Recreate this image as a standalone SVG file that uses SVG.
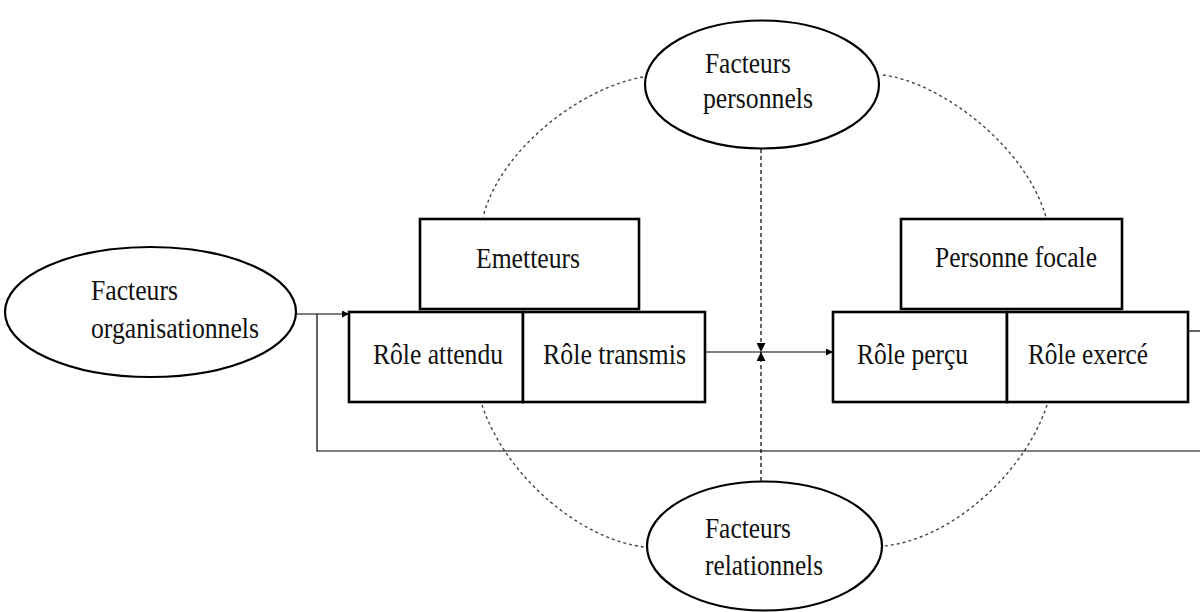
<svg xmlns="http://www.w3.org/2000/svg" width="1200" height="612" viewBox="0 0 1200 612">
<style>
.t{font-family:"Liberation Serif","Times New Roman",serif;font-size:29px;fill:#111}
.ell{fill:#fff;stroke:#000;stroke-width:2.2}
.box{fill:#fff;stroke:#000;stroke-width:2.6}
.ln{fill:none;stroke:#000;stroke-width:1.2}
.dot{fill:none;stroke:#444;stroke-width:1.4;stroke-dasharray:3 3}
.dash{fill:none;stroke:#000;stroke-width:1.2;stroke-dasharray:4 3}
</style>
<defs>
<marker id="ah" viewBox="0 0 10 10" refX="10" refY="5" markerWidth="7" markerHeight="7" markerUnits="userSpaceOnUse" orient="auto">
<path d="M0,0 L10,5 L0,10 z" fill="#000"/>
</marker>
<marker id="ah2" viewBox="0 0 10 10" refX="10" refY="5" markerWidth="11" markerHeight="9" markerUnits="userSpaceOnUse" orient="auto">
<path d="M0,0 L10,5 L0,10 z" fill="#000"/>
</marker>
</defs>
<rect width="1200" height="612" fill="#fff"/>
<g id="connectors">
<path class="dot" d="M643,77 C580,88 500,150 483,217"/>
<path class="dot" d="M883,75 C940,82 1025,145 1046,217"/>
<path class="dot" d="M482,405 C505,475 580,540 645,547"/>
<path class="dot" d="M1047,405 C1024,475 949,540 884,546"/>
<path class="ln" d="M296,314 L349,314" marker-end="url(#ah)"/>
<path class="ln" d="M317,314 L317,451 L1200,451"/>
<path class="ln" d="M1188,331 L1200,331"/>
<path class="ln" d="M705,352 L833,352" marker-end="url(#ah)"/>
<path class="dash" d="M761,149 L761,352" marker-end="url(#ah2)"/>
<path class="dash" d="M761,481 L761,352" marker-end="url(#ah2)"/>
</g>
<g id="facteurs-personnels">
<ellipse class="ell" cx="762" cy="84.5" rx="117" ry="64"/>
<text class="t" x="705" y="73" textLength="86" lengthAdjust="spacingAndGlyphs">Facteurs</text>
<text class="t" x="703" y="108" textLength="110" lengthAdjust="spacingAndGlyphs">personnels</text>
</g>
<g id="facteurs-relationnels">
<ellipse class="ell" cx="764.5" cy="546" rx="117.5" ry="64.5"/>
<text class="t" x="705" y="538" textLength="86" lengthAdjust="spacingAndGlyphs">Facteurs</text>
<text class="t" x="705" y="575" textLength="118" lengthAdjust="spacingAndGlyphs">relationnels</text>
</g>
<g id="facteurs-organisationnels">
<ellipse class="ell" cx="150.5" cy="312" rx="145.5" ry="65"/>
<text class="t" x="91" y="300" textLength="87" lengthAdjust="spacingAndGlyphs">Facteurs</text>
<text class="t" x="91" y="338" textLength="168" lengthAdjust="spacingAndGlyphs">organisationnels</text>
</g>
<g id="emetteurs">
<rect class="box" x="420" y="219" width="219" height="90"/>
<text class="t" x="476" y="268" textLength="104" lengthAdjust="spacingAndGlyphs">Emetteurs</text>
</g>
<g id="role-attendu">
<rect class="box" x="349" y="312" width="174" height="90"/>
<text class="t" x="373" y="364" textLength="130" lengthAdjust="spacingAndGlyphs">Rôle attendu</text>
</g>
<g id="role-transmis">
<rect class="box" x="523" y="312" width="182" height="90"/>
<text class="t" x="543" y="364" textLength="143" lengthAdjust="spacingAndGlyphs">Rôle transmis</text>
</g>
<g id="personne-focale">
<rect class="box" x="901" y="219" width="221" height="90"/>
<text class="t" x="935" y="267" textLength="162" lengthAdjust="spacingAndGlyphs">Personne focale</text>
</g>
<g id="role-percu">
<rect class="box" x="833" y="312" width="174" height="90"/>
<text class="t" x="857" y="364" textLength="111" lengthAdjust="spacingAndGlyphs">Rôle perçu</text>
</g>
<g id="role-exerce">
<rect class="box" x="1007" y="312" width="181" height="90"/>
<text class="t" x="1028" y="364" textLength="120" lengthAdjust="spacingAndGlyphs">Rôle exercé</text>
</g>
</svg>
